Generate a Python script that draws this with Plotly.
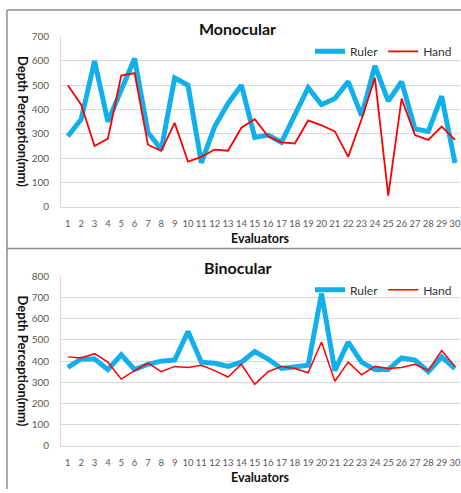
import plotly.graph_objects as go

evaluators = list(range(1, 31))
mono_ruler = [290, 360, 600, 350, 480, 610, 305, 235, 530, 500, 180, 330, 425, 500,
              285, 295, 265, 380, 490, 420, 445, 515, 375, 580, 435, 515, 320, 310, 455, 180]
mono_hand = [500, 420, 250, 280, 540, 550, 255, 230, 345, 185, 205, 235, 230, 325,
             360, 290, 265, 260, 355, 335, 310, 205, 360, 530, 45, 445, 295, 275, 330, 275]
bino_ruler = [370, 410, 410, 360, 430, 360, 385, 400, 405, 540, 395, 390, 375, 395,
              445, 410, 365, 370, 380, 720, 355, 490, 395, 360, 360, 415, 405, 350, 420, 365]
bino_hand = [420, 415, 435, 395, 315, 355, 390, 350, 375, 370, 380, 355, 325, 385,
             290, 350, 375, 365, 345, 490, 305, 395, 335, 375, 365, 370, 385, 355, 450, 375]
mono_ticks = [0, 100, 200, 300, 400, 500, 600, 700]
bino_ticks = [0, 100, 200, 300, 400, 500, 600, 700, 800]

W, H = 461, 493
def px(x):
    return x / W
def py(y):
    return 1 - y / H

FONT = "Lato"
BLUE = "#12b0ea"
RED = "#ff0000"
GRID = "#d9d9d9"
TICKC = "#595959"

fig = go.Figure()
fig.add_trace(go.Scatter(x=evaluators, y=mono_ruler, mode="lines", name="Ruler",
                         line=dict(color=BLUE, width=5), xaxis="x", yaxis="y", legend="legend"))
fig.add_trace(go.Scatter(x=evaluators, y=mono_hand, mode="lines", name="Hand",
                         line=dict(color=RED, width=1.8), xaxis="x", yaxis="y", legend="legend"))
fig.add_trace(go.Scatter(x=evaluators, y=bino_ruler, mode="lines", name="Ruler",
                         line=dict(color=BLUE, width=5), xaxis="x2", yaxis="y2", legend="legend2"))
fig.add_trace(go.Scatter(x=evaluators, y=bino_hand, mode="lines", name="Hand",
                         line=dict(color=RED, width=1.5), xaxis="x2", yaxis="y2", legend="legend2"))

xr = [0.5, 30 + (461 - 456) / 13.38]
xcommon = dict(range=xr, domain=[px(61.3), 1], tickmode="array", tickvals=evaluators,
               ticktext=[str(v) for v in evaluators], tickangle=0, showgrid=False, showline=True,
               linecolor=GRID, linewidth=1, ticks="outside", ticklen=8,
               tickcolor="rgba(0,0,0,0)", tickfont=dict(family=FONT, size=9.5, color=TICKC),
               ticklabeloverflow="allow", zeroline=False, fixedrange=True)
ycommon = dict(showgrid=True, gridcolor=GRID, gridwidth=1, showline=True, linecolor=GRID,
               linewidth=1, ticks="outside", ticklen=9, tickcolor="rgba(0,0,0,0)",
               tickfont=dict(family=FONT, size=10, color=TICKC), zeroline=False, fixedrange=True)

fig.update_layout(
    width=W, height=H, margin=dict(l=0, r=0, t=0, b=0),
    paper_bgcolor="white", plot_bgcolor="white",
    font=dict(family=FONT, color="#222222"),
    hovermode=False,
    xaxis=dict(**xcommon, anchor="y"),
    yaxis=dict(**ycommon, anchor="x", range=[0, 700], domain=[py(205), py(30.5)],
               tickvals=mono_ticks),
    xaxis2=dict(**xcommon, anchor="y2"),
    yaxis2=dict(**ycommon, anchor="x2", range=[0, 800], domain=[py(450.7), py(276.7)],
                tickvals=bino_ticks),
    legend=dict(orientation="h", x=px(458), xanchor="right", y=py(45.5), yanchor="middle",
                bgcolor="rgba(0,0,0,0)", font=dict(family=FONT, size=12, color="#333333"),
                itemwidth=30, tracegroupgap=0),
    legend2=dict(orientation="h", x=px(458), xanchor="right", y=py(290.5), yanchor="middle",
                 bgcolor="rgba(0,0,0,0)", font=dict(family=FONT, size=12, color="#333333"),
                 itemwidth=30, tracegroupgap=0),
)

ann = []
for title, yc in [("Monocular", 22), ("Binocular", 268)]:
    ann.append(dict(text="<b>%s</b>" % title, x=px(238.5), y=py(yc), xref="paper", yref="paper",
                    showarrow=False, xanchor="center", yanchor="middle",
                    font=dict(family=FONT, size=16, color="#111111")))
for yc in [238, 483]:
    ann.append(dict(text="<b>Evaluators</b>", x=px(261), y=py(yc), xref="paper", yref="paper",
                    showarrow=False, xanchor="center", yanchor="middle",
                    font=dict(family=FONT, size=12.5, color="#111111")))
for yc in [118, 364]:
    ann.append(dict(text="<b>Depth Perception(mm)</b>", x=px(23), y=py(yc), xref="paper",
                    yref="paper", showarrow=False, xanchor="center", yanchor="middle",
                    textangle=90, font=dict(family=FONT, size=13, color="#111111")))
fig.update_layout(annotations=ann)

frame = dict(color="#8c8c8c", width=1.5)
fig.add_shape(type="line", xref="paper", yref="paper", x0=px(7), x1=px(7), y0=py(3), y1=py(495), line=frame)
fig.add_shape(type="line", xref="paper", yref="paper", x0=px(7), x1=1.01, y0=py(3), y1=py(3), line=frame)
fig.add_shape(type="line", xref="paper", yref="paper", x0=px(7), x1=1.01, y0=py(248), y1=py(248), line=frame)

fig.write_html("out.html", config={"displayModeBar": False},
               post_script="document.body.style.margin='0';document.body.style.overflow='hidden';")
